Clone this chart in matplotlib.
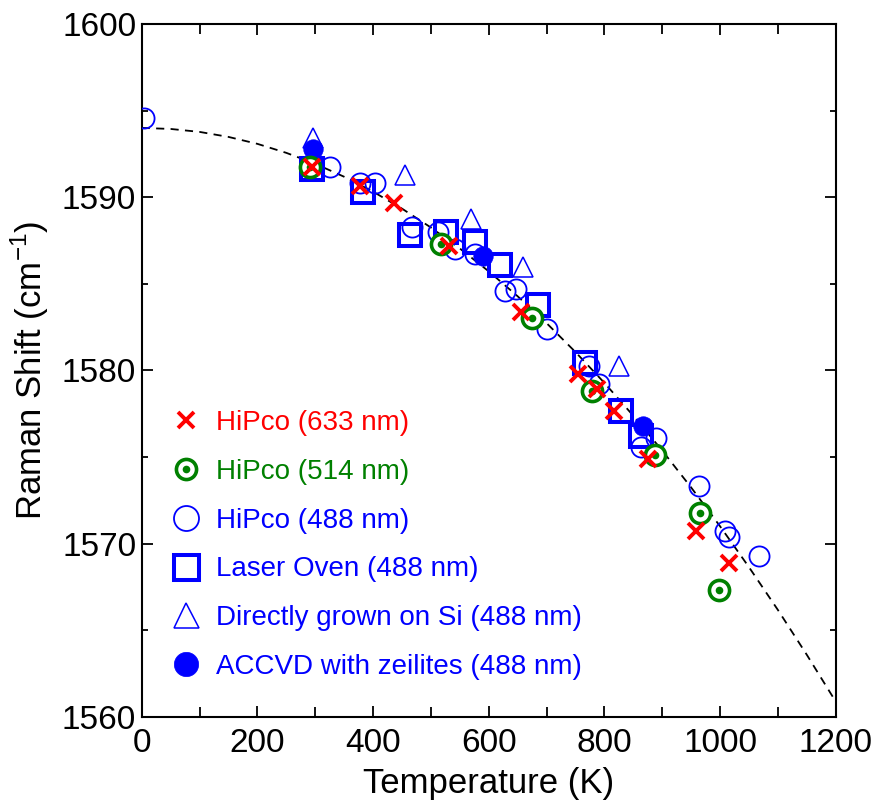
import numpy as np
import matplotlib.pyplot as plt
from matplotlib.lines import Line2D
from matplotlib.ticker import MultipleLocator

plt.rcParams['font.family'] = ['Liberation Sans', 'DejaVu Sans']
plt.rcParams['mathtext.fontset'] = 'custom'
plt.rcParams['mathtext.rm'] = 'Liberation Sans'

# HiPco (633 nm)
t_633 = [294, 378, 437, 532, 656, 754, 787, 816, 875, 958, 1015]
r_633 = [1591.75, 1590.65, 1589.66, 1587.17, 1583.35, 1579.8, 1578.9, 1577.65, 1574.9, 1570.7, 1568.85]

# HiPco (514 nm)
t_514 = [291, 517, 675, 778, 888, 966, 998]
r_514 = [1591.75, 1587.3, 1583.0, 1578.8, 1575.1, 1571.75, 1567.3]

# HiPco (488 nm)
t_488 = [4, 326, 378, 404, 468, 513, 542, 576, 628, 647, 700, 773, 790, 863, 889, 964, 1009, 1015, 1067]
r_488 = [1594.6, 1591.75, 1590.8, 1590.8, 1588.3, 1588.0, 1587.0, 1586.7, 1584.6, 1584.7,
         1582.4, 1580.25, 1579.2, 1575.6, 1576.1, 1573.3, 1570.7, 1570.4, 1569.3]

# Laser Oven (488 nm)
t_oven = [294, 383, 464, 527, 576, 619, 685, 766, 829, 864]
r_oven = [1591.65, 1590.3, 1587.8, 1588.0, 1587.4, 1586.1, 1583.8, 1580.45, 1577.65, 1576.2]

# Directly grown on Si (488 nm)
t_si = [297, 455, 570, 659, 826]
r_si = [1593.4, 1591.3, 1588.75, 1585.95, 1580.25]

# ACCVD with zeolites (488 nm)
t_accvd = [297, 590, 866]
r_accvd = [1592.8, 1586.6, 1576.8]

# dashed guide curve
t_curve = [0, 50, 100, 150, 200, 250, 300, 350, 400, 450, 500, 550, 600, 650,
           700, 750, 800, 850, 900, 950, 1000, 1050, 1100, 1150, 1200]
r_curve = [1594.0, 1593.94, 1593.77, 1593.48, 1593.08, 1592.56, 1591.93, 1591.18,
           1590.32, 1589.34, 1588.25, 1587.04, 1585.72, 1584.28, 1582.73, 1581.06,
           1579.28, 1577.38, 1575.37, 1573.24, 1571.0, 1568.64, 1566.17, 1563.58, 1560.88]

labels = ["HiPco (633 nm)", "HiPco (514 nm)", "HiPco (488 nm)", "Laser Oven (488 nm)",
          "Directly grown on Si (488 nm)", "ACCVD with zeilites (488 nm)"]
label_colors = ["red", "green", "blue", "blue", "blue", "blue"]

fig = plt.figure(figsize=(8.78, 8.0), dpi=100)
ax = fig.add_axes([0.1614, 0.1041, 0.7904, 0.8659])

ax.plot(t_curve, r_curve, "k--", lw=1.3, dashes=(4.5, 3.5), zorder=1)

crs = dict(ls="none", marker="x", ms=11.5, mec="red", mew=2.8)
grn = dict(ls="none", marker="o", ms=14.5, mfc="white", mec="green", mew=2.6)
dot = dict(ls="none", marker="o", ms=5.5, mfc="green", mec="green", mew=0)
op = dict(ls="none", marker="o", ms=14.5, mfc="none", mec="blue", mew=1.3)
sq = dict(ls="none", marker="s", ms=15.5, mfc="none", mec="blue", mew=2.9)
tri = dict(ls="none", marker="^", ms=14, mfc="none", mec="blue", mew=1.1)
fil = dict(ls="none", marker="o", ms=14, mfc="blue", mec="blue", mew=0.5)

ax.plot(t_oven, r_oven, zorder=2, **sq)
ax.plot(t_488, r_488, zorder=3, **op)
ax.plot(t_si, r_si, zorder=3, **tri)
ax.plot(t_accvd, r_accvd, zorder=4, **fil)
ax.plot(t_514, r_514, zorder=5, **grn)
ax.plot(t_514, r_514, zorder=6, **dot)
ax.plot(t_633, r_633, zorder=7, **crs)

# legend markers for the blue series are drawn a bit larger
handles = [Line2D([], [], **crs),
           (Line2D([], [], **grn), Line2D([], [], **dot)),
           Line2D([], [], **{**op, "ms": 18}),
           Line2D([], [], **{**sq, "ms": 18}),
           Line2D([], [], **{**tri, "ms": 18}),
           Line2D([], [], **{**fil, "ms": 17.5})]
leg = ax.legend(handles, labels, loc="lower left", bbox_to_anchor=(0.0033, 0.017),
                frameon=False, handlelength=1.2, handletextpad=0.51,
                labelspacing=0.82, labelcolor=label_colors,
                prop={"family": ["Liberation Sans"], "size": 20})

ax.set_xlim(0, 1200)
ax.set_ylim(1560, 1600)
ax.xaxis.set_major_locator(MultipleLocator(200))
ax.xaxis.set_minor_locator(MultipleLocator(100))
ax.yaxis.set_major_locator(MultipleLocator(10))
ax.yaxis.set_minor_locator(MultipleLocator(5))
ax.tick_params(which="both", direction="in", top=True, right=True, width=1.3, labelsize=24)
ax.tick_params(which="major", length=8)
ax.tick_params(axis="x", which="minor", length=7)
ax.tick_params(axis="y", which="minor", length=4.5)
ax.tick_params(axis="x", which="major", pad=8)
ax.tick_params(axis="y", which="major", pad=4)
for s in ax.spines.values():
    s.set_linewidth(1.5)

ax.set_xlabel("Temperature (K)", fontsize=25, labelpad=6)
ax.set_ylabel("Raman Shift (cm$^{-1}$)", fontsize=25, labelpad=8)

fig.savefig("out.png", dpi=100)
